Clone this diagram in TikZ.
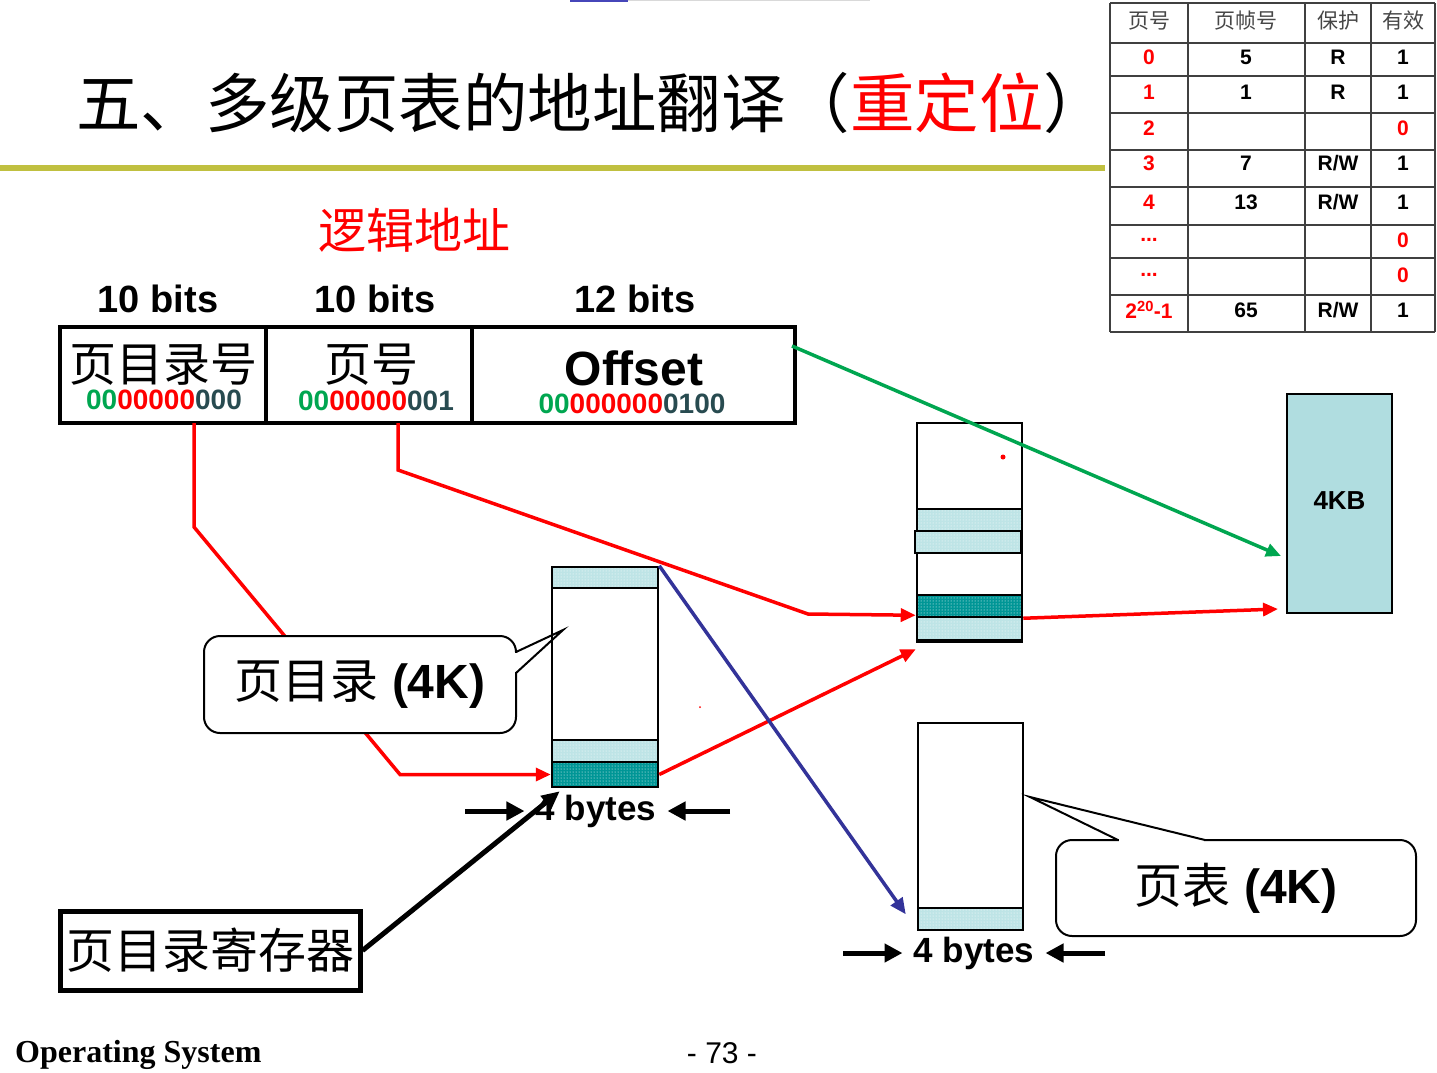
\documentclass[tikz,border=0pt]{standalone}
\usepackage{fontspec}
\setmainfont{Liberation Sans}
\newfontfamily\cjk{Noto Sans CJK SC}
\newfontfamily\timesfont{Liberation Serif}
\usetikzlibrary{arrows.meta,patterns}
\definecolor{olivebar}{RGB}{192,192,64}
\definecolor{bitgreen}{RGB}{0,166,80}
\definecolor{bitdark}{RGB}{40,75,80}
\definecolor{entrylight}{RGB}{190,228,230}
\definecolor{entrydark}{RGB}{0,150,150}
\definecolor{framefill}{RGB}{176,221,224}
\definecolor{navyarrow}{RGB}{51,51,153}
\definecolor{tabgray}{RGB}{70,70,70}
\newcommand{\setfs}[1]{\fontsize{#1pt}{#1pt}\selectfont}
\tikzset{
  field/.style={draw=black, line width=4pt, inner sep=0pt, minimum height=96pt},
  block/.style={draw=black, line width=2.5pt, fill=white, inner sep=0pt, minimum width=105pt},
  lightrow/.style={draw=black, line width=2.5pt, preaction={fill=entrylight}, pattern=dots, pattern color=white, inner sep=0pt, minimum width=105pt, minimum height=22pt},
  darkrow/.style={draw=black, line width=2.5pt, preaction={fill=entrydark}, pattern=dots, pattern color=white, inner sep=0pt, minimum width=105pt, minimum height=22pt},
  redarrow/.style={draw=red, line width=3.5pt, -{Triangle[length=15pt,width=13pt]}},
  bluearrow/.style={draw=navyarrow, line width=3.5pt, -{Triangle[length=16pt,width=14pt]}},
  greenarrow/.style={draw=bitgreen, line width=3.5pt, -{Triangle[length=15pt,width=13pt]}},
  blackarrow/.style={draw=black, line width=5pt, -{Triangle[length=18pt,width=16pt]}},
  thickarrow/.style={draw=black, line width=5pt, -{Triangle[length=18pt,width=18pt]}},
  callout/.style={draw=black, line width=2pt, fill=white, rounded corners=16pt, inner sep=0pt, font=\setfs{48}},
  tail/.style={draw=black, line width=2pt, line join=miter},
  bitlabel/.style={font=\setfs{38}\bfseries, inner sep=0pt},
  binary/.style={font=\setfs{28}\bfseries, inner sep=0pt},
  bytes/.style={font=\setfs{35}\bfseries, inner sep=11pt},
  cell/.style={font=\setfs{21}\bfseries, inner sep=0pt},
  headcell/.style={font=\cjk\setfs{21}, text=tabgray, inner sep=0pt},
  gridline/.style={draw=black!75, line width=1.5pt}
}
\begin{document}
\begin{tikzpicture}[x=1pt, y=-1pt]
\useasboundingbox (0,0) rectangle (1437,1072);
\fill[white] (0,0) rectangle (1437,1072);

% heading
\fill[blue!45!gray] (570,0) rectangle (628,2);
\fill[black!15] (628,0) rectangle (870,1);
\node[anchor=west, font=\cjk\setfs{64.5}, inner sep=0pt] (title) at (76,103) {五、多级页表的地址翻译（\textcolor{red}{重定位}）};
\fill[olivebar] (0,165) rectangle (1105,171);

% page table contents
\foreach \ly in {3,43,76,113,150,187,225,258,295,332}
  \draw[gridline] (1110,\ly) -- (1435,\ly);
\foreach \lx in {1110,1188,1305,1371,1435}
  \draw[gridline] (\lx,3) -- (\lx,332);
\node[headcell] (hpage) at (1149,21) {页号};
\node[headcell] (hframe) at (1246,21) {页帧号};
\node[headcell] (hprot) at (1338,21) {保护};
\node[headcell] (hvalid) at (1403,21) {有效};
\foreach \ry/\pg/\fr/\pr/\va/\vc [count=\i] in {57/0/5/R/1/black, 92/1/1/R/1/black, 128/2/{}/{}/0/red,
    163/3/7/{R/W}/1/black, 202/4/13/{R/W}/1/black, 240/{...}/{}/{}/0/red, 275/{...}/{}/{}/0/red,
    310/{2\textsuperscript{20}-1}/65/{R/W}/1/black}{
  \node[cell, text=red] (pg\i) at (1149,\ry) {\pg};
  \node[cell] (fr\i) at (1246,\ry) {\fr};
  \node[cell] (pr\i) at (1338,\ry) {\pr};
  \node[cell, text=\vc] (va\i) at (1403,\ry) {\va};
}

% logical address
\node[font=\cjk\setfs{48}, text=red, inner sep=0pt] (logaddr) at (414,230) {逻辑地址};
\node[bitlabel] (bits1) at (158,299) {10 bits};
\node[bitlabel] (bits2) at (375,299) {10 bits};
\node[bitlabel] (bits3) at (635,299) {12 bits};
\node[field, minimum width=206pt] (dirno) at (163,375) {};
\node[field, minimum width=206pt] (pageno) at (369,375) {};
\node[field, minimum width=323pt] (offfld) at (633.5,375) {};
\node[font=\cjk\setfs{47}, inner sep=0pt] (dirtext) at (163,365) {页目录号};
\node[font=\cjk\setfs{47}, inner sep=0pt] (pagetext) at (371,365) {页号};
\node[font=\setfs{48}\bfseries, inner sep=0pt] (offtext) at (634,368) {Offset};
\node[binary] (dirbits) at (164,400) {\textcolor{bitgreen}{00}\textcolor{red}{00000}\textcolor{bitdark}{000}};
\node[binary] (pagebits) at (376,401) {\textcolor{bitgreen}{00}\textcolor{red}{00000}\textcolor{bitdark}{001}};
\node[binary] (offbits) at (632,404) {\textcolor{bitgreen}{00}\textcolor{red}{000000}\textcolor{bitdark}{0100}};

% page directory
\node[block, minimum width=106pt, minimum height=220pt] (pdir) at (605,677) {};
\node[lightrow, minimum width=106pt, minimum height=21pt] (pdtop) at (605,577.5) {};
\node[lightrow, minimum width=106pt] (pdlow) at (605,751) {};
\node[darkrow, minimum width=106pt, minimum height=25pt] (pdent) at (605,774.5) {};

% page table hit
\node[block, minimum height=219pt] (pt1) at (969.5,532.5) {};
\node[lightrow] (pt1a) at (969.5,520) {};
\node[lightrow, minimum width=106pt] (pt1b) at (968,542) {};
\node[darkrow] (pt1ent) at (969.5,606) {};
\node[lightrow, minimum height=23pt] (pt1c) at (969.5,628.5) {};
\fill[red] (1003,457) circle (2.5pt);
\fill[red] (700,707) circle (1pt);

% other page table
\node[block, minimum height=207pt] (pt2) at (970.5,826.5) {};
\node[lightrow] (pt2a) at (970.5,919) {};

% page frame
\node[draw=black, line width=2pt, fill=framefill, minimum width=105pt, minimum height=219pt, font=\setfs{26}\bfseries] (frame4k) at (1339.5,503.5) {\raisebox{6pt}{4KB}};

% register
\node[draw=black, line width=5pt, minimum width=300pt, minimum height=79pt, inner sep=0pt, font=\cjk\setfs{48}] (regbox) at (210,950.5) {页目录寄存器};

% translation path
\coordinate (dirtap) at (194,423);
\coordinate (pagetap) at (398,423);
\draw[redarrow] (dirtap) -- (194,527) -- (400,774.5) -- (pdent.west);
\draw[redarrow] (pagetap) -- (398,470) -- (808,614) -- ([yshift=3pt]pt1ent.south west);
\draw[redarrow] (pdent.east) -- ([yshift=-6pt]pt1.south west);
\draw[redarrow] (pt1ent.south east) -- ([xshift=-8pt,yshift=5pt]frame4k.south west);
\draw[bluearrow] (pdtop.north east) -- ([xshift=-11pt,yshift=17pt]pt2.south west);
\draw[blackarrow] (regbox.east) -- ([xshift=9pt,yshift=-3pt]pdent.south west);
\draw[greenarrow] ([xshift=-5pt,yshift=-21pt]offfld.north east) -- ([xshift=-5pt,yshift=58pt]frame4k.south west);

% callouts
\node[callout, minimum width=312pt, minimum height=97pt] (dircall) at (360,684.5) {{\cjk 页目录} \textbf{(4K)}};
\fill[white] (513,653) rectangle (520,672);
\draw[tail] (516,652) -- (563,630) -- (516,673);
\node[callout, minimum width=360pt, minimum height=96pt] (ptcall) at (1236,888) {{\cjk 页表} \textbf{(4K)}};
\fill[white] (1119,837) rectangle (1204,843);
\draw[tail] (1118,840) -- (1030,797) -- (1205,840);

% entry widths
\node[bytes] (bytes1) at (596,811) {4 bytes};
\coordinate (b1l) at (465,811);
\coordinate (b1r) at (730,811);
\draw[thickarrow] (b1l) -- (bytes1.west);
\draw[thickarrow] (b1r) -- (bytes1.east);
\node[bytes] (bytes2) at (974,953) {4 bytes};
\coordinate (b2l) at (843,953);
\coordinate (b2r) at (1105,953);
\draw[thickarrow] (b2l) -- (bytes2.west);
\draw[thickarrow] (b2r) -- (bytes2.east);

% footer
\node[anchor=west, font=\timesfont\setfs{32}\bfseries, inner sep=0pt] (osname) at (15,1055) {Operating System};
\node[font=\setfs{30}, inner sep=0pt] (pageno73) at (722,1053) {- 73 -};
\end{tikzpicture}
\end{document}
